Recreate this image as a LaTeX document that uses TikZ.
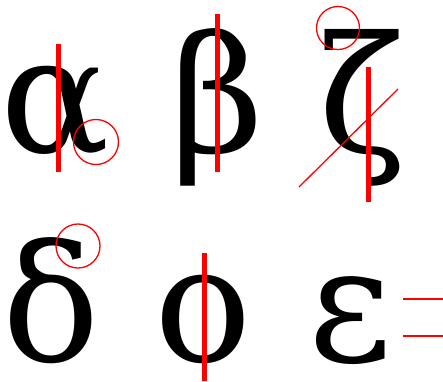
\documentclass[tikz,border=0pt]{standalone}
\usepackage{fontspec}
\usepackage{xcolor}
\definecolor{markRed}{RGB}{255,0,0}
\newfontfamily\greekserif{DejaVu Serif}
\usepackage{tikz}

\begin{document}
\begin{tikzpicture}[x=1pt, y=-1pt,
  glyph/.style={inner sep=0pt, anchor=base, font=\greekserif\fontsize{162}{162}\selectfont},
  bar/.style={draw=markRed, line width=5pt},
  ring/.style={draw=markRed, line width=1.3pt},
  hair/.style={draw=markRed, line width=1.3pt}]
\useasboundingbox (0,0) rectangle (443,381);
% top row
\node[glyph] (alpha) at (55.5,152) {α};
\node[glyph] (beta) at (217.5,152) {β};
\node[glyph] (zeta) at (362,152) {ζ};
% bottom row
\node[glyph] (delta) at (51.5,361) {δ};
\node[glyph] (phi) at (203.5,361) {ο};
\node[glyph] (epsilon) at (350,361) {ε};
% marks
\draw[bar] (58,44) -- (58,172);
\draw[ring] (96,142) circle (22.5);
\draw[bar] (217,14) -- (217,172);
\draw[ring] (338,28) circle (21.5);
\draw[bar] (368,67) -- (368,202);
\draw[hair] (299,187) -- (398,89);
\draw[ring] (78,246) circle (22);
\draw[bar] (204,253) -- (204,381);
\draw[hair] (403,299) -- (443,299);
\draw[hair] (403,336) -- (443,336);
\end{tikzpicture}
\end{document}
